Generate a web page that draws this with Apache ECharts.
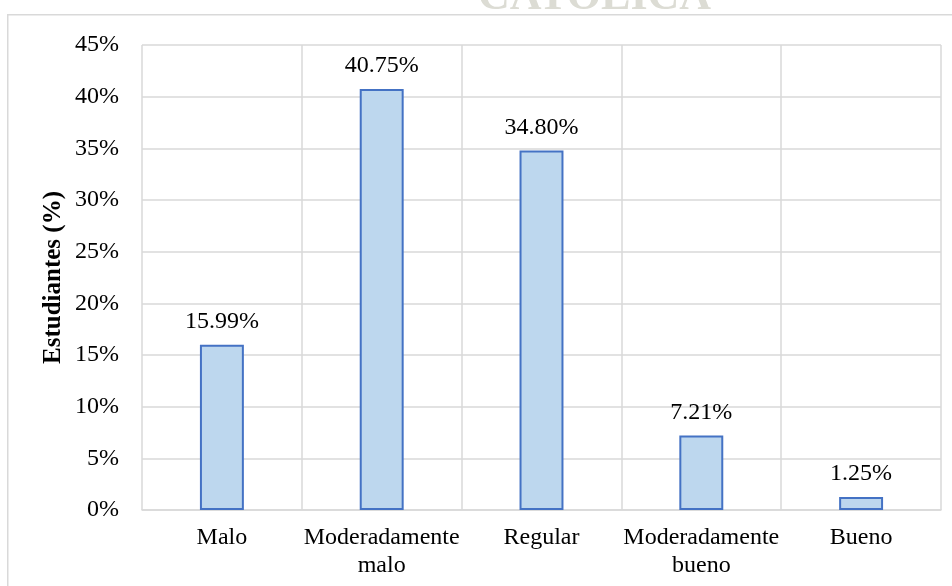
<!DOCTYPE html>
<html>
<head>
<meta charset="utf-8">
<script src="https://cdn.jsdelivr.net/npm/echarts@6/dist/echarts.min.js"></script>
<style>
html, body { margin: 0; padding: 0; background: #fff; }
#chart { width: 952px; height: 586px; }
</style>
</head>
<body>
<div id="chart"></div>
<script>
// datos
var categorias = ['Malo', 'Moderadamente\nmalo', 'Regular', 'Moderadamente\nbueno', 'Bueno'];
var porcentajes = [15.99, 40.75, 34.80, 7.21, 1.25];
var etiquetas = ['15.99%', '40.75%', '34.80%', '7.21%', '1.25%'];

var fuente = '"Liberation Serif", "Times New Roman", serif';
var chart = echarts.init(document.getElementById('chart'));

var option = {
    backgroundColor: '#ffffff',
    animation: false,
    graphic: [{
        type: 'text',
        left: 478,
        top: -24,
        style: {
            text: 'CATOLICA',
            font: 'bold 44px ' + fuente,
            fill: '#dcdcd4'
        },
        z: -2
    }, {
        type: 'rect',
        shape: { x: 0, y: 14, width: 952, height: 586 },
        style: { fill: '#ffffff', stroke: '#d9d9d9', lineWidth: 1.5 },
        left: 7,
        top: 14,
        z: -1
    }],
    grid: {
        left: 142,
        right: 11,
        top: 45,
        bottom: 76
    },
    xAxis: {
        type: 'category',
        data: categorias,
        axisLine: { lineStyle: { color: '#d9d9d9', width: 1.5 } },
        axisTick: { show: false },
        splitLine: { show: true, lineStyle: { color: '#d9d9d9', width: 1.5 } },
        axisLabel: {
            color: '#000',
            fontFamily: fuente,
            fontSize: 24,
            lineHeight: 28,
            margin: 14,
            interval: 0
        }
    },
    yAxis: {
        type: 'value',
        min: 0,
        max: 45,
        interval: 5,
        name: 'Estudiantes (%)',
        nameLocation: 'middle',
        nameGap: 76,
        nameMoveOverlap: false,
        nameTextStyle: {
            color: '#000',
            fontFamily: fuente,
            fontSize: 25,
            fontWeight: 'bold'
        },
        axisLine: { show: false },
        axisTick: { show: false },
        splitLine: { lineStyle: { color: '#d9d9d9', width: 1.5 } },
        axisLabel: {
            color: '#000',
            fontFamily: fuente,
            fontSize: 24,
            margin: 23,
            formatter: '{value}%'
        }
    },
    series: [{
        type: 'bar',
        data: porcentajes,
        barWidth: '27.5%',
        itemStyle: {
            color: '#bdd7ee',
            borderColor: '#4472c4',
            borderWidth: 2
        },
        label: {
            show: true,
            position: 'top',
            distance: 11,
            color: '#000',
            fontFamily: fuente,
            fontSize: 24,
            formatter: function (p) {
                return etiquetas[p.dataIndex];
            }
        }
    }]
};

chart.setOption(option);
</script>
</body>
</html>
